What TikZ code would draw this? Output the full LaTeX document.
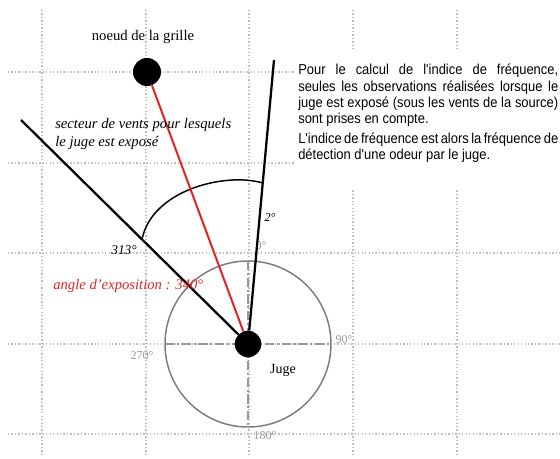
\documentclass[tikz,border=0pt]{standalone}
\usepackage{fontspec}
\setmainfont{Liberation Serif}
\newfontfamily\narrowsans[FakeStretch=0.9]{Liberation Sans}
\usetikzlibrary{calc}
\definecolor{grisgrille}{RGB}{190,190,190}
\definecolor{grisrose}{RGB}{125,125,125}
\definecolor{rougeexpo}{RGB}{228,35,35}

\begin{document}
\begin{tikzpicture}[x=0.75pt, y=-0.75pt,
    grille/.style={grisgrille, line width=0.8pt, dash pattern=on 1pt off 1.6pt},
    axe/.style={grisrose!80, line width=0.9pt, dash pattern=on 7pt off 2pt on 1.5pt off 2pt},
    point/.style={circle, fill=black, inner sep=0pt},
    deg/.style={font=\fontsize{9}{10}\selectfont, grisrose!80},
    etiq/.style={font=\fontsize{11}{12.8}\selectfont\itshape, align=left, anchor=west, inner sep=0pt}]
    \useasboundingbox (0,0) rectangle (560,459);
    % Grille
    \foreach \x in {42,146,249,353,457}
        \draw[grille] (\x,10) -- (\x,456);
    \foreach \y in {72,163,253,344,434}
        \draw[grille] (8,\y) -- (560,\y);
    % Texte
    \fill[white] (294,52) rectangle (560,189);
    \node (note) [anchor=north west, inner sep=0pt, text width=195pt, align=justify,
        font=\narrowsans\fontsize{10.8}{12.2}\selectfont] at (298,64)
        {Pour le calcul de l'indice de fréquence,\linebreak
         seules les observations réalisées lorsque le\linebreak
         juge est exposé (sous les vents de la source)\linebreak
         sont prises en compte.\par\vspace{2.5pt}
         L'indice de fréquence est alors la fréquence de\linebreak
         détection d'une odeur par le juge.};
    % Rose des vents
    \coordinate (centre) at (248,344);
    \draw[grisrose, line width=1.1pt] (centre) circle[radius=83];
    \draw[axe] ($(centre)+(-83,0)$) -- ($(centre)+(83,0)$);
    \draw[axe] ($(centre)+(0,-83)$) -- ($(centre)+(0,83)$);
    \node[deg] (d0) at (261,246) {0°};
    \node[deg] (d90) at (344,340) {90°};
    \node[deg] (d180) at (265,436) {180°};
    \node[deg] (d270) at (142,356) {270°};
    \node[point, minimum size=20pt] (juge) at (centre) {};
    \node[point, minimum size=21pt] (noeud) at (147,72) {};
    % Secteur
    \coordinate (s313) at (21,120);
    \coordinate (s2) at (274,60);
    \draw[line width=1.7pt] (juge) -- (s313);
    \draw[line width=1.7pt] (juge) -- (s2);
    \draw[line width=1.1pt] ($(centre)!0.467!(s313)$)
        .. controls (152,190) and (225,172) .. ($(centre)!0.567!(s2)$);
    \draw[rougeexpo, line width=1.5pt] (juge) -- (noeud);
    % Etiquettes
    \node[font=\fontsize{11}{13}\selectfont] (titre) at (143,37) {noeud de la grille};
    \node[etiq] (secteur) at (55,134) {secteur de vents pour lesquels\\le juge est exposé};
    \node[etiq, rougeexpo] (angle) at (53,286) {angle d'exposition : 340°};
    \node[font=\fontsize{10}{12}\selectfont\itshape] (l313) at (124,250) {313°};
    \node[font=\fontsize{9}{11}\selectfont\itshape] (l2) at (270,218) {2°};
    \node[font=\fontsize{10.5}{12}\selectfont] (nomjuge) at (283,370) {Juge};
\end{tikzpicture}
\end{document}
